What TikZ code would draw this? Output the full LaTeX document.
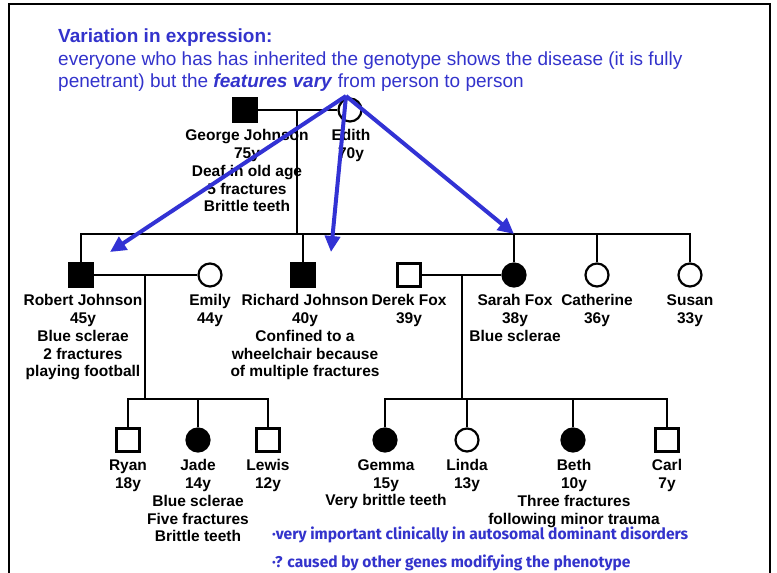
\documentclass[tikz,border=0pt]{standalone}
\usepackage{fontspec}
\setmainfont{Liberation Sans}
\newfontfamily\bulfont{Fira Sans}
\usetikzlibrary{arrows.meta}
\definecolor{hblue}{RGB}{51,51,204}
\definecolor{ablue}{RGB}{50,50,212}
\begin{document}
\begin{tikzpicture}[x=1pt,y=-1pt,
  male/.style={draw,line width=2.2pt,minimum size=23pt,inner sep=0pt,rectangle,fill=white},
  female/.style={draw,line width=2.2pt,minimum size=23pt,inner sep=0pt,circle,fill=white},
  aff/.style={fill=black},
  lbl/.style={anchor=north,inner sep=0pt,align=center,font=\bfseries\fontsize{15.5}{17.7}\selectfont},
  rel/.style={line width=2pt},
  arr/.style={ablue,line width=4pt,-{Triangle[length=16pt,width=15pt]}},
  bul/.style={anchor=west,inner sep=0pt,text=hblue,font=\bulfont\bfseries\fontsize{15.6}{17}\selectfont}
]
\useasboundingbox (0,0) rectangle (777,573);
\fill[white] (0,0) rectangle (777,573);
% frame
\coordinate (f1) at (9,573);
\coordinate (f2) at (9,4);
\coordinate (f3) at (770,4);
\coordinate (f4) at (770,573);
\draw[line width=1.5pt] (f1) -- (f2) -- (f3) -- (f4);

% header
\node[anchor=north west,inner sep=0pt,align=left,text=hblue,
  font=\fontsize{19}{22.5}\selectfont] (head) at (58,29)
  {\textbf{Variation in expression:}\\
   everyone who has has inherited the genotype shows the disease (it is fully\\
   penetrant) but the \textbf{\textit{features vary}} from person to person};

% generation 1
\node[male,aff] (george) at (245,110) {};
\node[female] (edith) at (350,110) {};
\coordinate (m1) at (297,110);
\coordinate (s1) at (297,234);
\draw[rel] (george.east) -- (edith.west);
\draw[rel] (m1) -- (s1);
\node[lbl] (lgeorge) at (247,129.5) {George Johnson\\75y\\Deaf in old age\\5 fractures\\Brittle teeth};
\node[lbl] (ledith) at (351,129.5) {Edith\\70y};

% generation 2
\node[male,aff] (robert) at (81,275) {};
\node[female] (emily) at (210,275) {};
\node[male,aff] (richard) at (303,275) {};
\node[male] (derek) at (409,275) {};
\node[female,aff] (sarah) at (514,275) {};
\node[female] (catherine) at (597,275) {};
\node[female] (susan) at (690,275) {};
\draw[rel] (robert.north) -- (robert|-s1) -- (susan|-s1) -- (susan.north);
\draw[rel] (richard.north) -- (richard|-s1);
\draw[rel] (sarah.north) -- (sarah|-s1);
\draw[rel] (catherine.north) -- (catherine|-s1);
\draw[line width=2.5pt] (s1) -- (catherine|-s1);

\node[lbl] (lrobert) at (83,294.5) {Robert Johnson\\45y\\Blue sclerae\\2 fractures\\playing football};
\node[lbl] (lemily) at (210,294.5) {Emily\\44y};
\node[lbl] (lrichard) at (305,294.5) {Richard Johnson\\40y\\Confined to a\\wheelchair because\\of multiple fractures};
\node[lbl] (lderek) at (409,294.5) {Derek Fox\\39y};
\node[lbl] (lsarah) at (515,294.5) {Sarah Fox\\38y\\Blue sclerae};
\node[lbl] (lcatherine) at (597,294.5) {Catherine\\36y};
\node[lbl] (lsusan) at (690,294.5) {Susan\\33y};

% Robert + Emily children
\coordinate (m2) at (145,275);
\coordinate (s2) at (145,399);
\draw[rel] (robert.east) -- (emily.west);
\draw[line width=2.5pt] (m2) -- (s2);
\node[male] (ryan) at (128,440) {};
\node[female,aff] (jade) at (198,440) {};
\node[male] (lewis) at (268,440) {};
\draw[rel] (ryan.north) -- (ryan|-s2) -- (lewis|-s2) -- (lewis.north);
\draw[rel] (jade.north) -- (jade|-s2);
\node[lbl] (lryan) at (128,459.5) {Ryan\\18y};
\node[lbl] (ljade) at (198,459.5) {Jade\\14y\\Blue sclerae\\Five fractures\\Brittle teeth};
\node[lbl] (llewis) at (268,459.5) {Lewis\\12y};

% Derek + Sarah children
\coordinate (m3) at (462,275);
\coordinate (s3) at (462,399);
\draw[rel] (derek.east) -- (sarah.west);
\draw[line width=2.5pt] (m3) -- (s3);
\node[female,aff] (gemma) at (385,440) {};
\node[female] (linda) at (467,440) {};
\node[female,aff] (beth) at (573,440) {};
\node[male] (carl) at (667,440) {};
\draw[rel] (gemma.north) -- (gemma|-s3) -- (carl|-s3) -- (carl.north);
\draw[rel] (linda.north) -- (linda|-s3);
\draw[rel] (beth.north) -- (beth|-s3);
\node[lbl] (lgemma) at (386,459.5) {Gemma\\15y\\Very brittle teeth};
\node[lbl] (llinda) at (467,459.5) {Linda\\13y};
\node[lbl] (lbeth) at (574,459.5) {Beth\\10y\\Three fractures\\following minor trauma};
\node[lbl] (lcarl) at (667,459.5) {Carl\\7y};

% bullet notes
\node[bul] (b1) at (272,535) {·very important clinically in autosomal dominant disorders};
\node[bul] (b2) at (272,563) {·? caused by other genes modifying the phenotype};

% arrows
\coordinate (apex) at (346,96);
\coordinate (t1) at (110,252);
\coordinate (t2) at (331,252);
\coordinate (t3) at (514,234);
\draw[arr] (apex) -- (t1);
\draw[arr] (apex) -- (t2);
\draw[arr] (apex) -- (t3);
\end{tikzpicture}
\end{document}
